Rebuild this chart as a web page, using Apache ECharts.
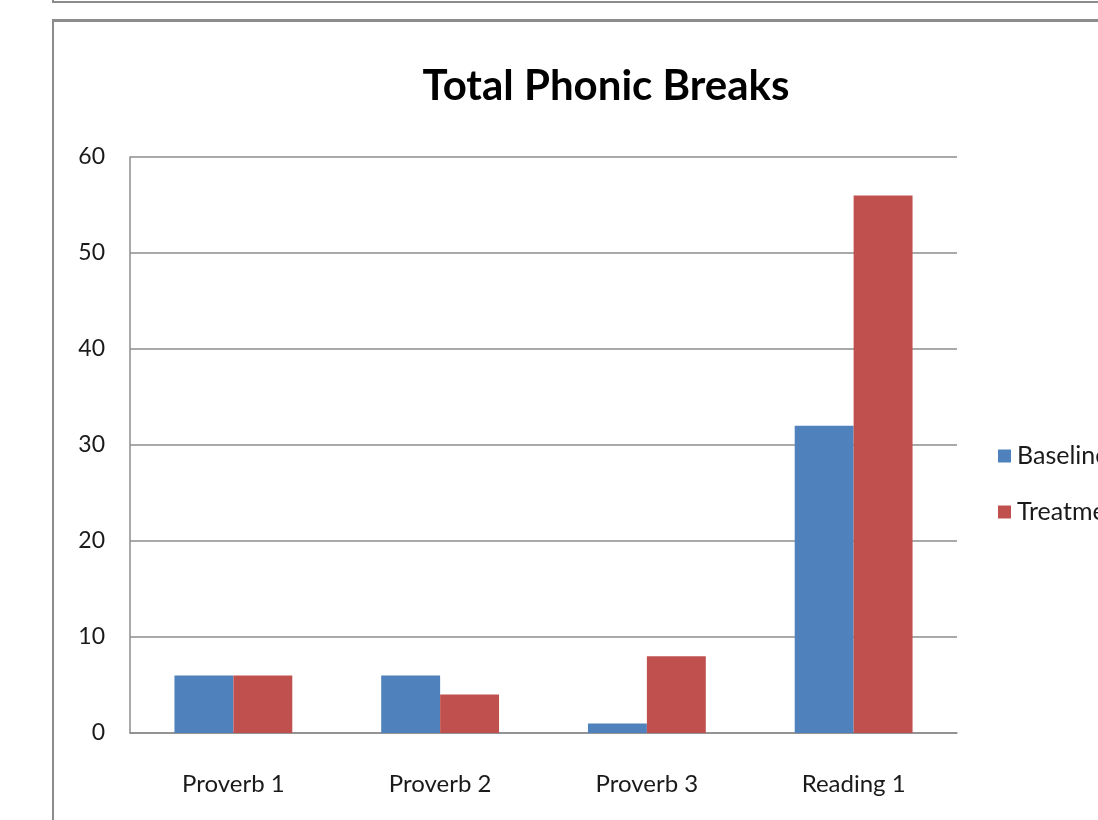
<!DOCTYPE html>
<html>
<head>
<meta charset="utf-8">
<script src="https://cdn.jsdelivr.net/npm/echarts@6/dist/echarts.min.js"></script>
<style>
html,body{margin:0;padding:0;background:#fff;}
#chart{width:1098px;height:820px;}
</style>
</head>
<body>
<div id="chart"></div>
<script>
const categories = ["Proverb 1", "Proverb 2", "Proverb 3", "Reading 1"];
const baseline = [6, 6, 1, 32];
const treatment = [6, 4, 8, 56];
const seriesNames = ["Baseline", "Treatment"];
const yTicks = [0, 10, 20, 30, 40, 50, 60];

const chart = echarts.init(document.getElementById('chart'), null, {renderer: 'canvas'});
const font = 'Lato';
chart.setOption({
  animation: false,
  backgroundColor: '#ffffff',
  graphic: [
    {type: 'rect', shape: {x: 52, y: 1, width: 1100, height: 2}, style: {fill: '#8c8c8c'}},
    {type: 'rect', shape: {x: 52, y: -20, width: 2, height: 23}, style: {fill: '#8c8c8c'}},
    {type: 'rect', shape: {x: 52, y: 19, width: 1100, height: 3}, style: {fill: '#8c8c8c'}},
    {type: 'rect', shape: {x: 52, y: 19, width: 2, height: 820}, style: {fill: '#8c8c8c'}}
  ],
  title: {
    text: 'Total Phonic Breaks',
    left: 601, top: 60, textAlign: 'center',
    textStyle: {fontFamily: font, fontWeight: 'bold', fontSize: 42, color: '#000'}
  },
  legend: {
    orient: 'vertical',
    left: 998, top: 443,
    padding: 0,
    itemWidth: 13, itemHeight: 13,
    itemGap: 30,
    icon: 'rect',
    textStyle: {fontFamily: font, fontSize: 25, color: '#1a1a1a', lineHeight: 26, padding: [0,0,0,1]},
    data: seriesNames
  },
  grid: {left: 130, right: 141, top: 157, bottom: 87, containLabel: false},
  xAxis: {
    type: 'category',
    data: categories,
    axisLine: {show: true, lineStyle: {color: '#8c8c8c', width: 1.5}},
    axisTick: {show: false},
    axisLabel: {fontFamily: font, fontSize: 24, color: '#1a1a1a', margin: 39}
  },
  yAxis: {
    type: 'value',
    min: 0, max: 60, interval: 10,
    axisLine: {show: true, lineStyle: {color: '#8c8c8c', width: 1.5}},
    axisTick: {show: false},
    axisLabel: {fontFamily: font, fontSize: 23, color: '#1a1a1a', margin: 25,
      formatter: v => yTicks.includes(v) ? String(v) : ''},
    splitLine: {show: true, lineStyle: {color: '#8c8c8c', width: 1.5}}
  },
  series: [
    {name: seriesNames[0], type: 'bar', data: baseline, barGap: '0%', barCategoryGap: '43%',
      itemStyle: {color: '#4F81BD'}},
    {name: seriesNames[1], type: 'bar', data: treatment, barGap: '0%', barCategoryGap: '43%',
      itemStyle: {color: '#C0504D'}}
  ]
});
</script>
</body>
</html>
